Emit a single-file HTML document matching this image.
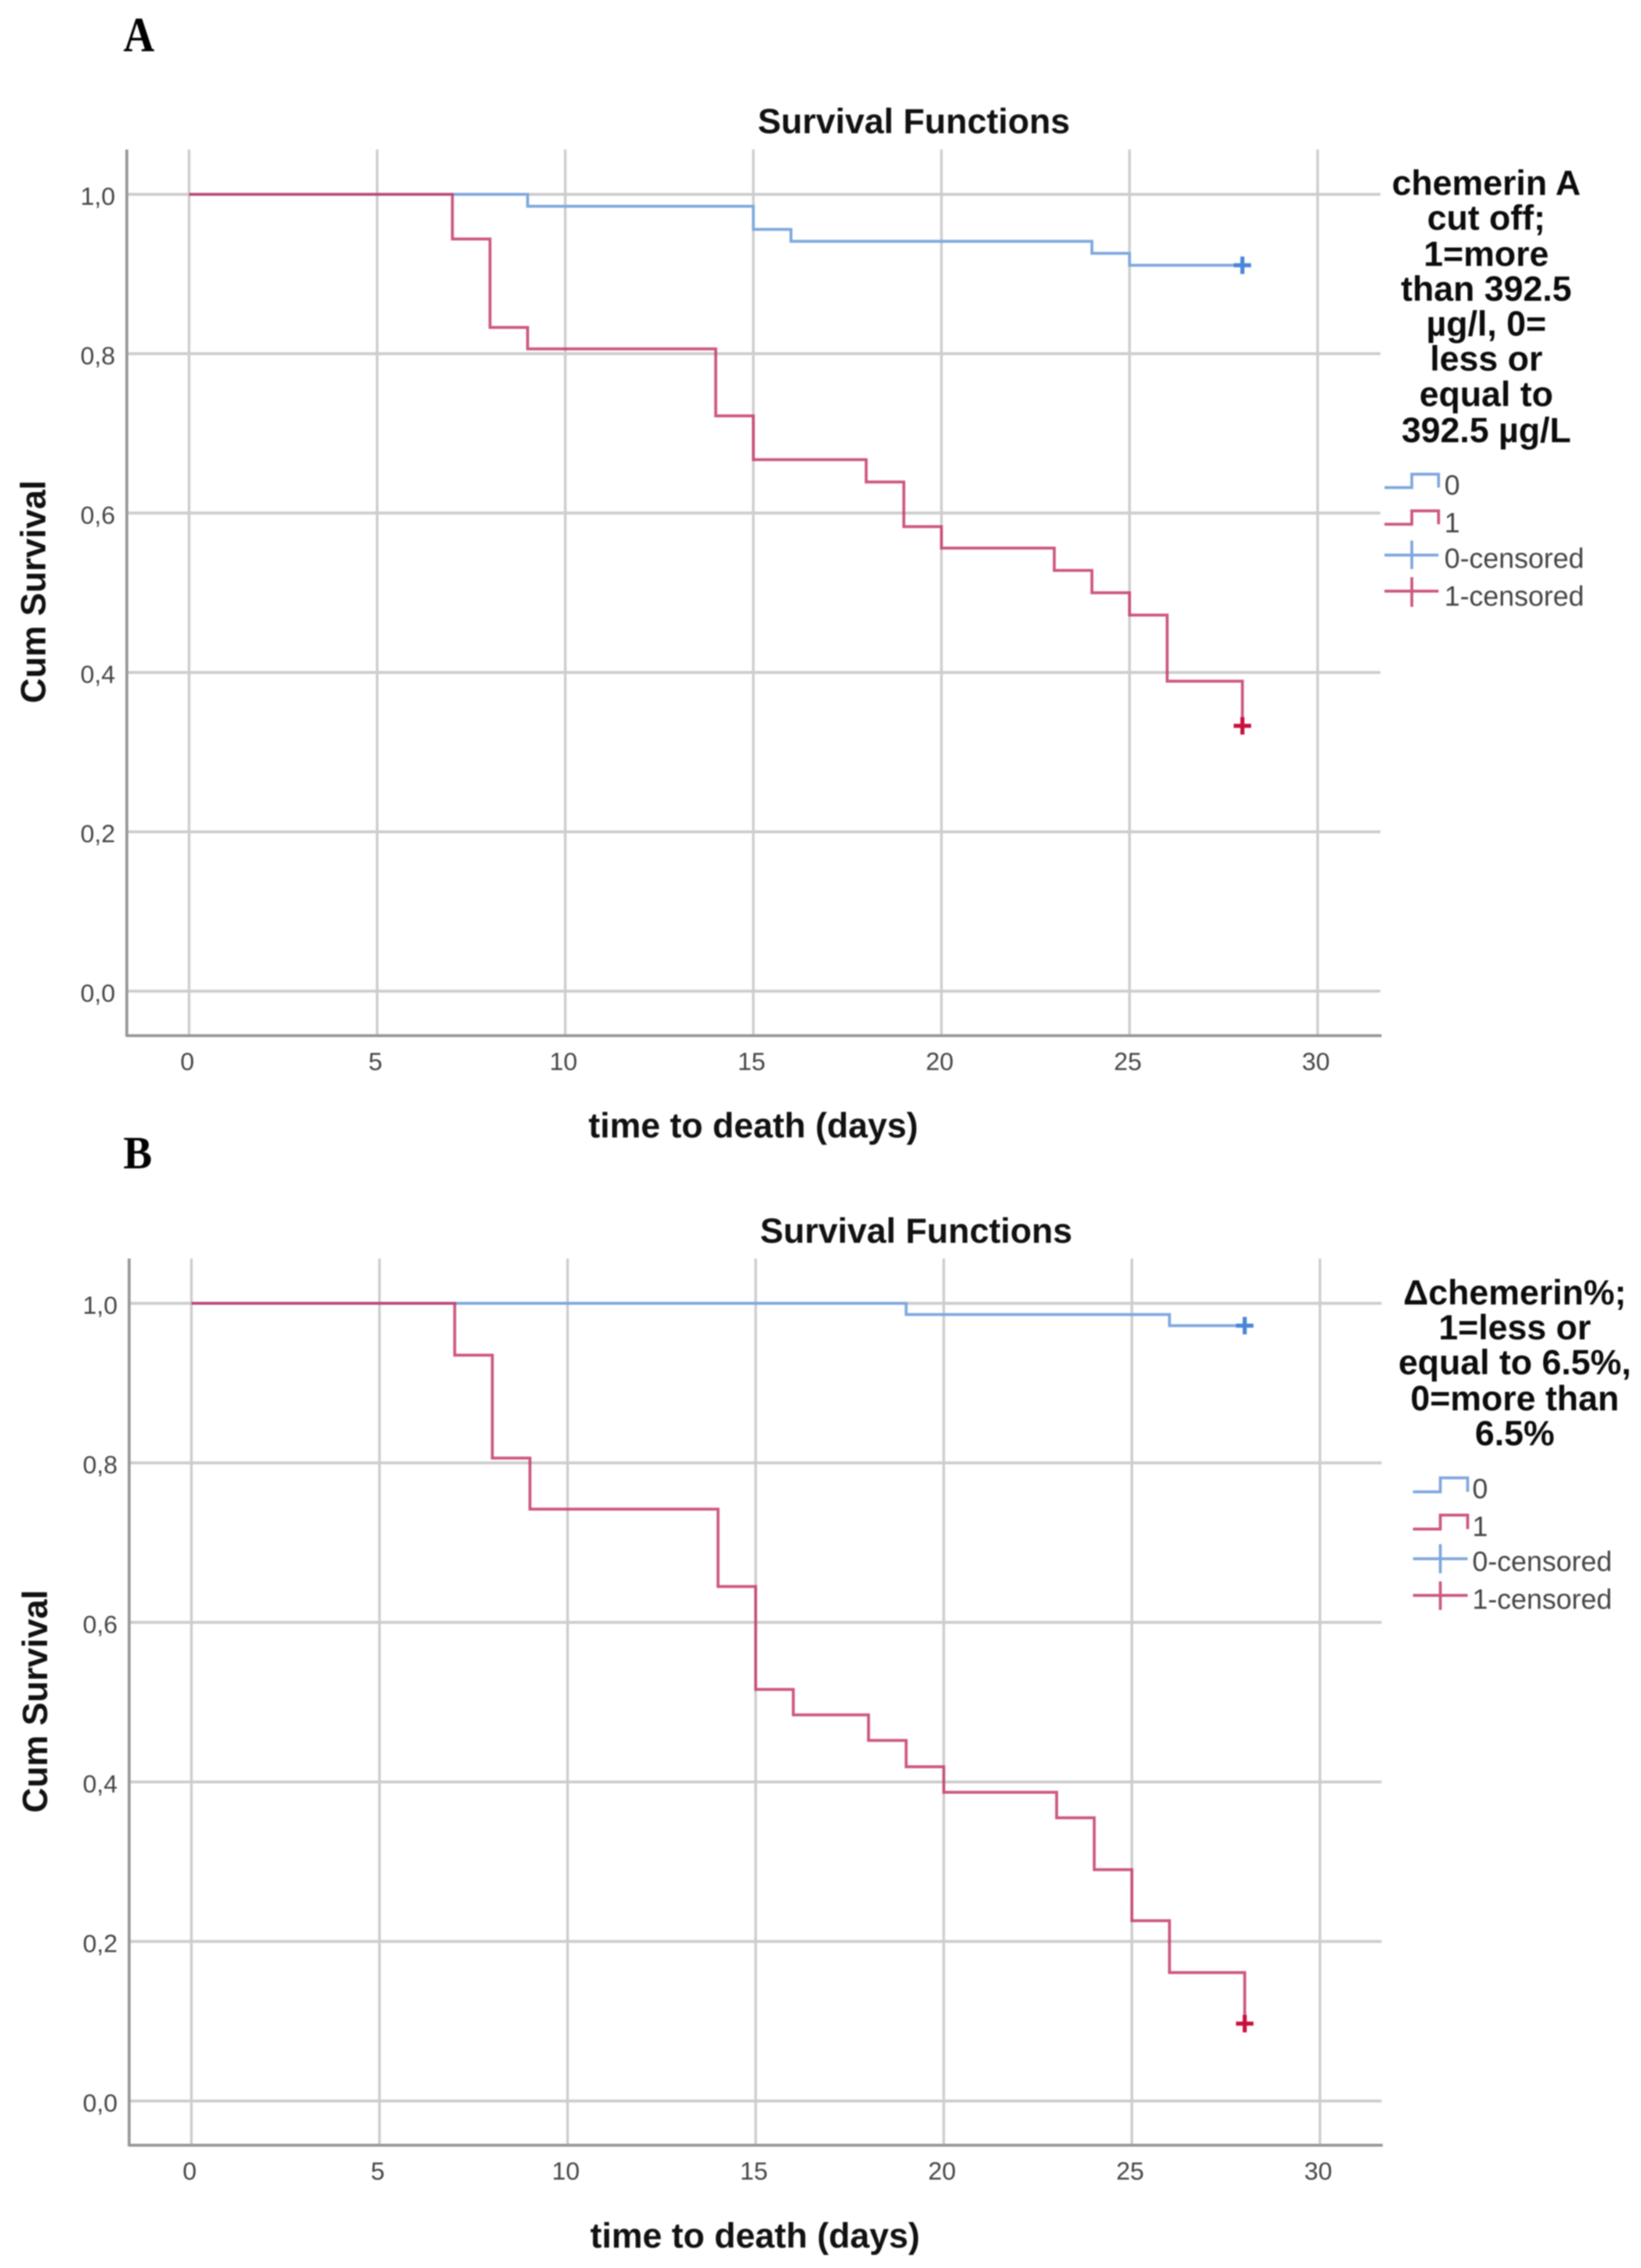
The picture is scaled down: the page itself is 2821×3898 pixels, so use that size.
<!DOCTYPE html>
<html lang="en">
<head>
<meta charset="utf-8">
<title>Survival Functions</title>
<style>
html,body{margin:0;padding:0;background:#fff;}
svg{display:block;filter:blur(1.1px);}
text{font-family:"Liberation Sans",sans-serif;}
.ax-title{font-size:60px;font-weight:700;fill:#111;}
.leg-title{font-size:60px;font-weight:700;fill:#0c0c0c;text-anchor:middle;}
.leg-text{font-size:48px;fill:#444;}
.tick{font-size:43px;fill:#444;}
.panel-letter{font-family:"Liberation Serif",serif;font-size:78px;font-weight:700;fill:#000;}
.blue{stroke:#7fa8de;fill:none;stroke-width:5;}
.red{stroke:#c43a68;stroke-opacity:.85;fill:none;stroke-width:5;}
</style>
</head>
<body>
<svg id="fig" xmlns="http://www.w3.org/2000/svg" width="2821" height="3898" viewBox="0 0 2821 3898">
  <rect width="2821" height="3898" fill="#fff"/>

  <text class="panel-letter" transform="translate(212,88) scale(.95,1.08)">A</text>
  <g id="panelA"></g>
  <text class="ax-title" x="1571" y="229" text-anchor="middle">Survival Functions</text>
  <text class="ax-title" x="1295" y="1955" text-anchor="middle">time to death (days)</text>
  <text class="ax-title" transform="translate(78,1017) rotate(-90)" text-anchor="middle">Cum Survival</text>

  <g>
    <text class="leg-title" x="2555" y="335">chemerin A</text>
    <text class="leg-title" x="2555" y="395">cut off;</text>
    <text class="leg-title" x="2555" y="457">1=more</text>
    <text class="leg-title" x="2555" y="517">than 392.5</text>
    <text class="leg-title" x="2555" y="577">µg/l, 0=</text>
    <text class="leg-title" x="2555" y="637">less or</text>
    <text class="leg-title" x="2555" y="698">equal to</text>
    <text class="leg-title" x="2555" y="760">392.5 µg/L</text>
  </g>
  <g>
    <path class="blue" d="M2380 838H2427V815H2473V838"/>
    <text class="leg-text" x="2483" y="850">0</text>
  </g>
  <g>
    <path class="red" d="M2380 901H2427V878H2473V901"/>
    <text class="leg-text" x="2483" y="915">1</text>
  </g>
  <g>
    <path class="blue" d="M2380 954H2473M2427 929V978"/>
    <text class="leg-text" x="2483" y="976">0-censored</text>
  </g>
  <g>
    <path class="red" d="M2380 1016H2473M2427 992V1043"/>
    <text class="leg-text" x="2483" y="1041">1-censored</text>
  </g>

  <text class="panel-letter" transform="translate(212,2008) scale(.95,1.02)">B</text>
  <g id="panelB"></g>
  <text class="ax-title" x="1575" y="2136" text-anchor="middle">Survival Functions</text>
  <text class="ax-title" x="1298" y="3863" text-anchor="middle">time to death (days)</text>
  <text class="ax-title" transform="translate(81,2924) rotate(-90)" text-anchor="middle">Cum Survival</text>

  <g>
    <text class="leg-title" x="2604" y="2242">Δchemerin%;</text>
    <text class="leg-title" x="2604" y="2302">1=less or</text>
    <text class="leg-title" x="2604" y="2362">equal to 6.5%,</text>
    <text class="leg-title" x="2604" y="2424">0=more than</text>
    <text class="leg-title" x="2604" y="2484">6.5%</text>
  </g>
  <g>
    <path class="blue" d="M2429 2564H2476V2540H2523V2564"/>
    <text class="leg-text" x="2531" y="2575">0</text>
  </g>
  <g>
    <path class="red" d="M2429 2628H2476V2604H2523V2628"/>
    <text class="leg-text" x="2531" y="2640">1</text>
  </g>
  <g>
    <path class="blue" d="M2429 2679H2523M2476 2654V2704"/>
    <text class="leg-text" x="2531" y="2700">0-censored</text>
  </g>
  <g>
    <path class="red" d="M2429 2742H2523M2476 2718V2767"/>
    <text class="leg-text" x="2531" y="2765">1-censored</text>
  </g>
</svg>

<script>
// Shared axis tick values
const xTicks = [0, 5, 10, 15, 20, 25, 30];
const yTicks = [0, 0.2, 0.4, 0.6, 0.8, 1.0];

// Panel A series: event day and cumulative survival
const panelABlueDays = [0, 9, 15, 16, 24, 25, 28];
const panelABlueSurvival = [1, 0.985, 0.956, 0.941, 0.926, 0.911, 0.911];
const panelARedDays = [0, 7, 8, 9, 14, 15, 18, 19, 20, 23, 24, 25, 26, 28];
const panelARedSurvival = [1, 0.944, 0.833, 0.806, 0.722, 0.667, 0.639, 0.583, 0.556, 0.528, 0.5, 0.472, 0.389, 0.333];

// Panel B series: event day and cumulative survival
const panelBBlueDays = [0, 19, 26, 28];
const panelBBlueSurvival = [1, 0.986, 0.972, 0.972];
const panelBRedDays = [0, 7, 8, 9, 14, 15, 16, 18, 19, 20, 23, 24, 25, 26, 28];
const panelBRedSurvival = [1, 0.935, 0.806, 0.742, 0.645, 0.516, 0.484, 0.452, 0.419, 0.387, 0.355, 0.29, 0.226, 0.161, 0.097];

const NS = 'http://www.w3.org/2000/svg';

function add(parent, tag, attrs, text) {
  const el = document.createElementNS(NS, tag);
  for (const k in attrs) el.setAttribute(k, attrs[k]);
  if (text !== undefined) el.textContent = text;
  parent.appendChild(el);
  return el;
}

function stepPath(days, surv, xs, ys) {
  let d = 'M' + xs(days[0]) + ' ' + ys(surv[0]);
  for (let i = 1; i < days.length; i++) {
    d += 'H' + xs(days[i]) + 'V' + ys(surv[i]);
  }
  return d;
}

function drawCensor(g, x, y, color, name) {
  const mark = add(g, 'path', {
    d: 'M' + (x - 15) + ' ' + y + 'H' + (x + 15) + 'M' + x + ' ' + (y - 15) + 'V' + (y + 15),
    stroke: color, 'stroke-width': 7, fill: 'none'
  });
  
  
}

function drawPanel(id, frame, blueDays, blueSurv, redDays, redSurv) {
  const g = document.getElementById(id);
  const xs = t => frame.x0 + t * frame.xUnit;
  const ys = s => frame.y0 - s * frame.yUnit;

  yTicks.forEach(function (v) {
    const line = add(g, 'line', {
      x1: frame.left, x2: frame.right, y1: ys(v), y2: ys(v),
      stroke: '#cdcdcd', 'stroke-width': 5
    });
    
    
    const label = add(g, 'text', {
      class: 'tick', x: frame.left - 20, y: ys(v) + 18, 'text-anchor': 'end'
    }, v.toFixed(1).replace('.', ','));
    
    
  });

  xTicks.forEach(function (v) {
    const line = add(g, 'line', {
      x1: xs(v), x2: xs(v), y1: frame.top, y2: frame.bottom,
      stroke: '#cdcdcd', 'stroke-width': 4.5
    });
    
    
    const label = add(g, 'text', {
      class: 'tick', x: xs(v) - 3, y: frame.bottom + 59, 'text-anchor': 'middle'
    }, String(v));
    
    
  });

  const yAxis = add(g, 'line', {
    x1: frame.left, x2: frame.left, y1: frame.top, y2: frame.bottom + 2,
    stroke: '#979797', 'stroke-width': 5
  });
  
  

  const xAxis = add(g, 'line', {
    x1: frame.left, x2: frame.right + 2, y1: frame.bottom, y2: frame.bottom,
    stroke: '#979797', 'stroke-width': 5
  });
  
  

  const blue = add(g, 'path', { class: 'blue', d: stepPath(blueDays, blueSurv, xs, ys) });
  
  

  const red = add(g, 'path', { class: 'red', d: stepPath(redDays, redSurv, xs, ys) });
  
  

  drawCensor(g, xs(blueDays[blueDays.length - 1]), ys(blueSurv[blueSurv.length - 1]), '#4a86d8', 'censor-mark-0');
  drawCensor(g, xs(redDays[redDays.length - 1]), ys(redSurv[redSurv.length - 1]), '#c8103f', 'censor-mark-1');
}

drawPanel('panelA',
  { x0: 325, xUnit: 64.67, y0: 1703.5, yUnit: 1369.5, left: 218, right: 2373, top: 257, bottom: 1780 },
  panelABlueDays, panelABlueSurvival, panelARedDays, panelARedSurvival);

drawPanel('panelB',
  { x0: 329, xUnit: 64.67, y0: 3611, yUnit: 1371, left: 222, right: 2375, top: 2163, bottom: 3687 },
  panelBBlueDays, panelBBlueSurvival, panelBRedDays, panelBRedSurvival);
</script>
</body>
</html>
